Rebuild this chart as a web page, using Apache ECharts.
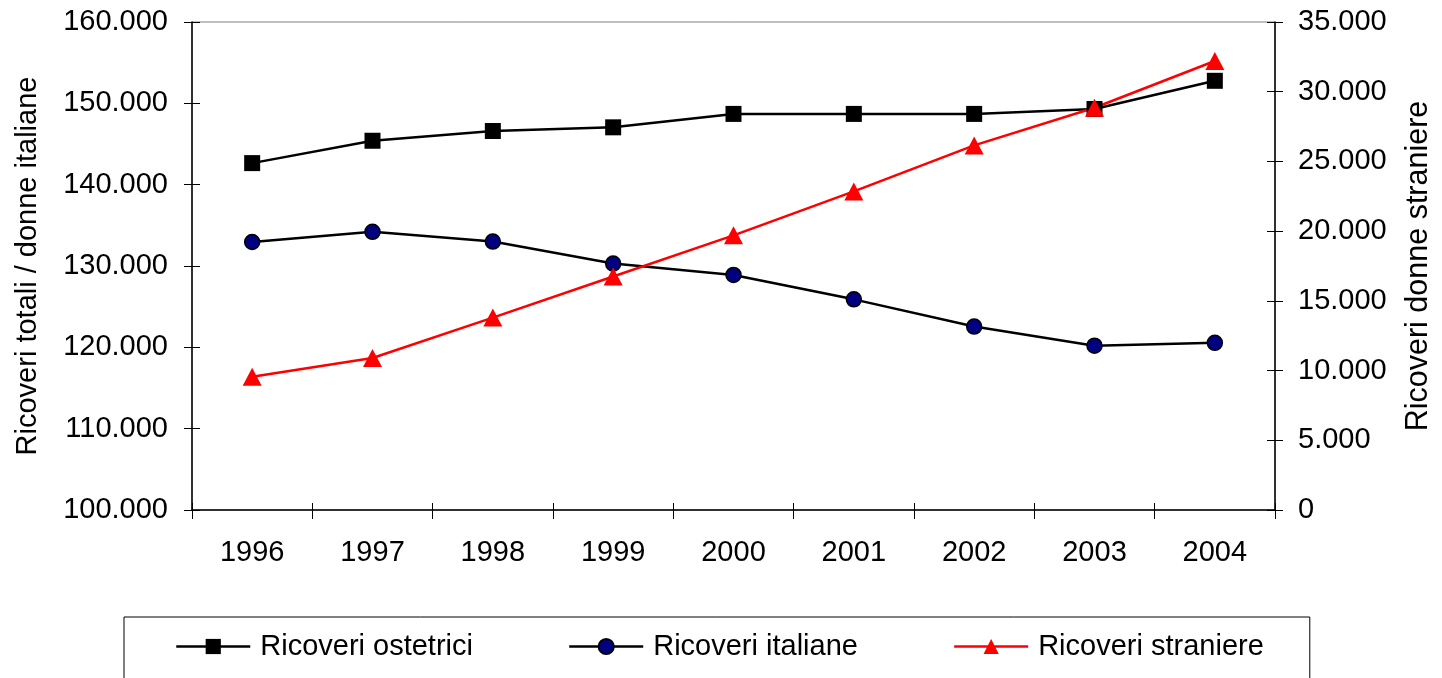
<!DOCTYPE html>
<html>
<head>
<meta charset="utf-8">
<title>Ricoveri 1996-2004</title>
<script src="https://cdn.jsdelivr.net/npm/echarts@6/dist/echarts.min.js"></script>
<style>
  html, body { margin: 0; padding: 0; background: #fff; }
  #chart { width: 1442px; height: 678px; }
</style>
</head>
<body>
<div id="chart"></div>
<script>
// Years on the category axis
const years = ['1996', '1997', '1998', '1999', '2000', '2001', '2002', '2003', '2004'];

// Hospital admissions (left axis)
const ricoveriOstetrici = [142650, 145400, 146600, 147050, 148700, 148700, 148700, 149300, 152770];
const ricoveriItaliane = [132950, 134200, 133000, 130300, 128900, 125900, 122550, 120200, 120550];

// Admissions of foreign women (right axis)
const ricoveriStraniere = [9550, 10900, 13800, 16750, 19700, 22850, 26150, 28850, 32200];

// Axis ranges
const leftAxisRange = { min: 100000, max: 160000, interval: 10000 };
const rightAxisRange = { min: 0, max: 35000, interval: 5000 };

const FONT = "'Liberation Sans', Arial, sans-serif";

// Italian number format: dot as thousands separator
function fmt(v) {
  return String(Math.round(v)).replace(/\B(?=(\d{3})+(?!\d))/g, '.');
}

const chart = echarts.init(document.getElementById('chart'), null, { renderer: 'canvas' });

const axisText = { fontFamily: FONT, fontSize: 29, color: '#000' };

// Ticks cross the axis line: one axis draws the outer half, a twin draws the inner half
function valueAxis(range, position, name, nameGap, labelMargin, nameSize) {
  return {
    type: 'value',
    position: position,
    min: range.min, max: range.max, interval: range.interval,
    name: name,
    nameLocation: 'middle',
    nameGap: nameGap,
    nameRotate: 90,
    nameTextStyle: { fontFamily: FONT, fontSize: nameSize, color: '#000' },
    axisLine: { show: true, lineStyle: { color: '#000', width: 1.5 } },
    axisTick: { show: true, inside: false, length: 8, lineStyle: { color: '#000', width: 1 } },
    axisLabel: Object.assign({ margin: labelMargin, formatter: fmt }, axisText),
    splitLine: { show: false }
  };
}
function twinValueAxis(range, position) {
  return {
    type: 'value',
    position: position,
    min: range.min, max: range.max, interval: range.interval,
    axisLine: { show: false },
    axisTick: { show: true, inside: true, length: 8, lineStyle: { color: '#000', width: 1 } },
    axisLabel: { show: false },
    splitLine: { show: false }
  };
}

const option = {
  backgroundColor: '#fff',
  animation: false,
  textStyle: { fontFamily: FONT },
  grid: {
    left: 192, right: 163, top: 22, bottom: 168,
    show: true, borderColor: '#808080', borderWidth: 1, backgroundColor: 'transparent'
  },
  legend: {
    left: 124, top: 617,
    orient: 'horizontal',
    padding: [15, 46, 40, 51],
    itemWidth: 74, itemHeight: 19, itemGap: 95,
    borderColor: '#000', borderWidth: 1,
    textStyle: { fontFamily: FONT, fontSize: 29, color: '#000', padding: [0, 0, 0, 5] },
    data: [
      { name: 'Ricoveri ostetrici', lineStyle: { width: 2.5, color: '#000' } },
      { name: 'Ricoveri italiane', lineStyle: { width: 2.5, color: '#000' } },
      { name: 'Ricoveri straniere', lineStyle: { width: 2.5, color: '#ff0000' } }
    ]
  },
  xAxis: [
    {
      type: 'category',
      data: years,
      boundaryGap: true,
      position: 'bottom',
      axisLine: { show: true, lineStyle: { color: '#000', width: 1.5 } },
      axisTick: { show: true, inside: false, length: 9, interval: 0, lineStyle: { color: '#000', width: 1 } },
      axisLabel: Object.assign({ margin: 28, interval: 0 }, axisText),
      splitLine: { show: false }
    },
    {
      type: 'category',
      data: years,
      boundaryGap: true,
      position: 'bottom',
      axisLine: { show: false },
      axisTick: { show: true, inside: true, length: 7, interval: 0, lineStyle: { color: '#000', width: 1 } },
      axisLabel: { show: false },
      splitLine: { show: false }
    }
  ],
  yAxis: [
    valueAxis(leftAxisRange, 'left', 'Ricoveri totali / donne italiane', 150, 24, 29),
    valueAxis(rightAxisRange, 'right', 'Ricoveri donne straniere', 128, 23, 30.5),
    twinValueAxis(leftAxisRange, 'left'),
    twinValueAxis(rightAxisRange, 'right')
  ],
  series: [
    {
      name: 'Ricoveri ostetrici',
      type: 'line',
      xAxisIndex: 0, yAxisIndex: 0,
      data: ricoveriOstetrici,
      symbol: 'rect', symbolSize: 16,
      lineStyle: { color: '#000', width: 2.5 },
      itemStyle: { color: '#000', borderColor: '#000', borderWidth: 0 }
    },
    {
      name: 'Ricoveri italiane',
      type: 'line',
      xAxisIndex: 0, yAxisIndex: 0,
      data: ricoveriItaliane,
      symbol: 'circle', symbolSize: 15,
      lineStyle: { color: '#000', width: 2.5 },
      itemStyle: { color: '#000080', borderColor: '#000', borderWidth: 1.5 }
    },
    {
      name: 'Ricoveri straniere',
      type: 'line',
      xAxisIndex: 0, yAxisIndex: 1,
      data: ricoveriStraniere,
      symbol: 'triangle', symbolSize: [19, 18],
      lineStyle: { color: '#ff0000', width: 2.5 },
      itemStyle: { color: '#ff0000', borderColor: '#ff0000', borderWidth: 0 }
    }
  ]
};

chart.setOption(option);
</script>
</body>
</html>
